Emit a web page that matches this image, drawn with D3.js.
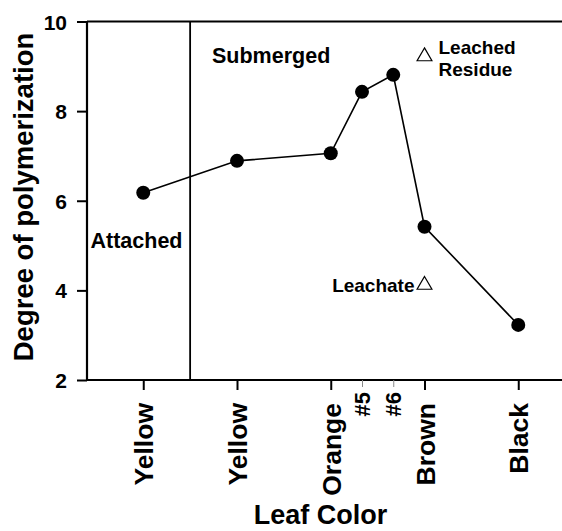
<!DOCTYPE html>
<html lang="en">
<head>
<meta charset="UTF-8">
<script src="https://cdnjs.cloudflare.com/ajax/libs/d3/7.8.5/d3.min.js"></script>
<style>
  html, body { margin: 0; padding: 0; background: #fff; }
  svg { font-family: "Liberation Sans", Arial, sans-serif; font-weight: bold; }
</style>
</head>
<body>
<div id="chart"></div>
<script>
// leaf color categories, placed on a position scale (uneven spacing in the figure)
var categories = ["Yellow", "Yellow", "Orange", "#5", "#6", "Brown", "Black"];
var positions = [0, 3, 6, 7, 8, 9, 12];
var minorTicks = ["#5", "#6"];
var dpValues = [6.18, 6.89, 7.06, 8.43, 8.81, 5.42, 3.23];
var yTicks = [2, 4, 6, 8, 10];
// open triangles at the Brown stage
var leachedResidue = 9.22;
var leachate = 4.12;
var dividerPos = 1.5;

var width = 562, height = 531;
var svg = d3.select("#chart").append("svg")
  .attr("width", width)
  .attr("height", height);

var x = d3.scaleLinear().domain([-1.8, 13.4]).range([87, 562]);
var y = d3.scaleLinear().domain([2, 10]).range([380, 21.5]);

// y axis
var yAxis = svg.append("g")
  .attr("transform", "translate(" + x(-1.8) + ",0)")
  .call(d3.axisLeft(y).tickValues(yTicks).tickSize(10).tickPadding(10).tickFormat(d3.format("d")));
yAxis.select(".domain").attr("stroke-width", 2.2).attr("d", "M0," + y(2) + "V" + y(10));
yAxis.selectAll(".tick line").attr("stroke-width", 2);
yAxis.selectAll(".tick text").style("font-size", "21px").attr("fill", "#000").attr("dy", "0.36em");

// x axis
var xAxis = svg.append("g")
  .attr("transform", "translate(0," + y(2) + ")")
  .call(d3.axisBottom(x).tickValues(positions).tickSize(10).tickFormat(""));
xAxis.select(".domain").attr("stroke-width", 2.2).attr("d", "M" + x(-1.8) + ",0H" + width);
xAxis.selectAll(".tick line")
  .attr("stroke-width", (d, i) => minorTicks.indexOf(categories[i]) >= 0 ? 1 : 2)
  .attr("stroke", (d, i) => minorTicks.indexOf(categories[i]) >= 0 ? "#888" : "#000")
  .attr("y2", (d, i) => minorTicks.indexOf(categories[i]) >= 0 ? 7 : 10);

// rotated tick labels
svg.append("g").selectAll("text")
  .data(positions)
  .enter()
  .append("text")
  .attr("transform", function(d, i) {
    var minor = minorTicks.indexOf(categories[i]) >= 0;
    return "translate(" + (x(d) + (minor ? 7.5 : 10)) + "," + (minor ? 392 : 403) + ") rotate(-90)";
  })
  .attr("text-anchor", "end")
  .style("font-size", (d, i) => minorTicks.indexOf(categories[i]) >= 0 ? "22px" : "26.5px")
  .text((d, i) => categories[i]);

// top frame line
svg.append("line")
  .attr("x1", x(-1.8)).attr("x2", width)
  .attr("y1", y(10)).attr("y2", y(10))
  .attr("stroke", "#000").attr("stroke-width", 2.2);

// attached / submerged divider
svg.append("line")
  .attr("x1", x(dividerPos)).attr("x2", x(dividerPos))
  .attr("y1", y(10)).attr("y2", y(2))
  .attr("stroke", "#000").attr("stroke-width", 1.8);

// data line
var line = d3.line()
  .x((d, i) => x(positions[i]))
  .y(d => y(d));
svg.append("path")
  .datum(dpValues)
  .attr("d", line)
  .attr("fill", "none")
  .attr("stroke", "#000")
  .attr("stroke-width", 1.6);

svg.append("g").selectAll("circle")
  .data(dpValues)
  .enter()
  .append("circle")
  .attr("cx", (d, i) => x(positions[i]))
  .attr("cy", d => y(d))
  .attr("r", 7)
  .attr("fill", "#000");

// open triangles
var tri = d3.symbol().type(d3.symbolTriangle).size(95);
var brownPos = positions[categories.indexOf("Brown")];
svg.append("g").selectAll("path")
  .data([leachedResidue, leachate])
  .enter()
  .append("path")
  .attr("d", tri)
  .attr("transform", d => "translate(" + x(brownPos) + "," + y(d) + ")")
  .attr("fill", "#fff")
  .attr("stroke", "#000")
  .attr("stroke-width", 1.2);

// annotations
svg.append("text")
  .attr("x", x(brownPos) + 14).attr("y", y(leachedResidue) - 2)
  .style("font-size", "19px").text("Leached");
svg.append("text")
  .attr("x", x(brownPos) + 14).attr("y", y(leachedResidue) + 20)
  .style("font-size", "19px").text("Residue");
svg.append("text")
  .attr("x", x(brownPos) - 10).attr("y", y(leachate) + 7)
  .attr("text-anchor", "end")
  .style("font-size", "19px").text("Leachate");
svg.append("text")
  .attr("x", 212).attr("y", 63)
  .style("font-size", "21.5px").text("Submerged");
svg.append("text")
  .attr("x", 90.5).attr("y", 248)
  .style("font-size", "21.5px").text("Attached");

// axis titles
svg.append("text")
  .attr("transform", "translate(33,197) rotate(-90)")
  .attr("text-anchor", "middle")
  .style("font-size", "27.5px")
  .text("Degree of polymerization");
svg.append("text")
  .attr("x", 320.5).attr("y", 524)
  .attr("text-anchor", "middle")
  .style("font-size", "27px")
  .text("Leaf Color");
</script>
</body>
</html>
